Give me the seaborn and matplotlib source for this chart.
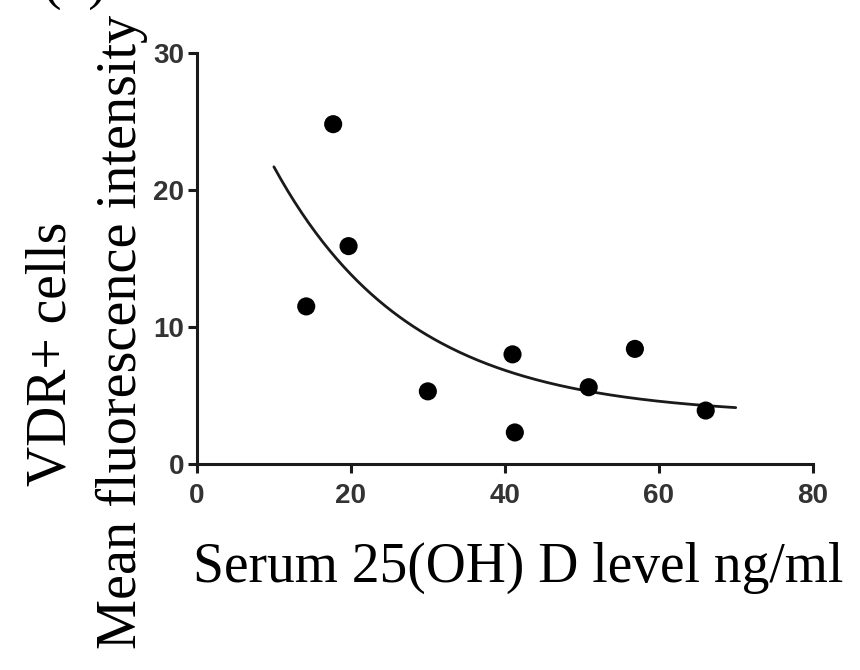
import numpy as np
import pandas as pd
import seaborn as sns
import matplotlib
matplotlib.use("Agg")
import matplotlib.pyplot as plt

# Data
vitd_level = [14.2, 17.7, 19.7, 30.0, 41.0, 41.3, 50.9, 56.9, 66.1]
vdr_mfi = [11.5, 24.8, 15.9, 5.3, 8.0, 2.3, 5.6, 8.4, 3.9]

# One-phase decay fit curve: y = span*exp(-k*x) + plateau
fit_span = 32.0
fit_k = 0.0565
fit_plateau = 3.5
fit_x_range = [10.0, 70.0]

x_ticks = [0, 20, 40, 60, 80]
y_ticks = [0, 10, 20, 30]

x_label = "Serum 25(OH) D level ng/ml"
y_label_1 = "VDR+ cells"
y_label_2 = "Mean fluorescence intensity"
panel_label = "(b)"

df = pd.DataFrame({"x": vitd_level, "y": vdr_mfi})
xf = np.linspace(fit_x_range[0], fit_x_range[1], 200)
fit_df = pd.DataFrame({"x": xf, "y": fit_span * np.exp(-fit_k * xf) + fit_plateau})

sns.set_theme(style="ticks")
plt.rcParams["font.family"] = ["Liberation Serif", "DejaVu Serif"]

fig = plt.figure(figsize=(8.6, 6.7), dpi=100)
ax = fig.add_axes([0.229, 0.3075, 0.716, 0.6135])

sns.lineplot(data=fit_df, x="x", y="y", ax=ax, color="#1a1a1a", linewidth=2.0)
sns.scatterplot(data=df, x="x", y="y", ax=ax, color="black", s=170,
                edgecolor="none", zorder=5, clip_on=False)

ax.set_xlim(0, 80)
ax.set_ylim(0, 30)
ax.set_xticks(x_ticks)
ax.set_yticks(y_ticks)
ax.set_xlabel("")
ax.set_ylabel("")
sns.despine(ax=ax)
for s in ["left", "bottom"]:
    ax.spines[s].set_linewidth(2.2)
    ax.spines[s].set_color("#1a1a1a")
ax.tick_params(axis="both", length=6.5, width=2.2, color="#1a1a1a")
ax.tick_params(axis="x", pad=7)
ax.tick_params(axis="y", pad=2.5)
for lab in ax.get_xticklabels() + ax.get_yticklabels():
    lab.set_family(["Liberation Sans", "DejaVu Sans"])
    lab.set_fontweight("bold")
    lab.set_fontsize(20)
    lab.set_color("#333333")

fig.text(0.602, 0.152, x_label, fontsize=40, ha="center", va="center", color="black")
fig.text(0.060, 0.472, y_label_1, fontsize=40, ha="center", va="center",
         rotation=90, color="black")
fig.text(0.142, 0.505, y_label_2, fontsize=40.5, ha="center", va="center",
         rotation=90, color="black")
fig.text(0.087, 1.003, panel_label, fontsize=40, ha="center", va="baseline", color="black")

fig.savefig("out.png", dpi=100)
